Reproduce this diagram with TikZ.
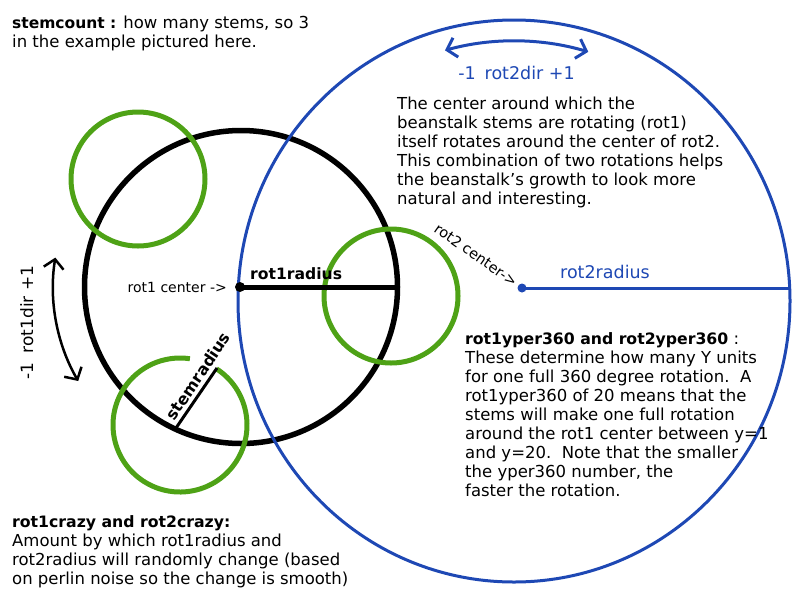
\documentclass[tikz,border=0pt]{standalone}
\usepackage{fontspec}
\setmainfont{DejaVu Sans}
\usetikzlibrary{arrows.meta}
\definecolor{stemgreen}{RGB}{78,162,22}
\definecolor{rotblue}{RGB}{30,72,180}
\tikzset{
  txt/.style={inner sep=0pt, align=left, anchor=north west, font=\fontsize{16.5}{19}\selectfont},
  lbl/.style={inner sep=0pt},
  greenring/.style={draw=stemgreen, line width=5pt},
  blackring/.style={draw=black, line width=5.5pt},
  bluering/.style={draw=rotblue, line width=3pt},
  barbtip/.tip={Straight Barb[length=9pt,width=20pt]},
  dotnode/.style={circle, inner sep=0pt},
}
\begin{document}
\begin{tikzpicture}[x=1pt,y=-1pt]
\useasboundingbox (0,0) rectangle (800,600);
% centres
\coordinate (c1) at (241,287);
\coordinate (bc) at (514,301);
\coordinate (c3) at (180,425);
\coordinate (s3c) at (176,428);
\coordinate (s3e) at (217,368);
\coordinate (r2e) at (790,288);
% black rot1 circle
\node[circle, blackring, minimum size=313pt, inner sep=0pt] (rot1circle) at (c1) {};
% green stem circles
\node[circle, greenring, minimum size=134pt, inner sep=0pt] (stem1) at (138,179) {};
\node[circle, greenring, minimum size=134pt, inner sep=0pt] (stem2) at (391,296) {};
\draw[greenring] (c3) ++(-57:67) arc[start angle=-57, end angle=278.5, radius=67];
% blue rot2 circle
\draw[bluering] (bc) ellipse[x radius=276, y radius=281];
% radius lines
\draw[line width=5pt] (c1) -- (rot1circle.east);
\draw[line width=3pt] (s3c) -- (s3e);
\node[dotnode, fill=black, minimum size=10pt] (dot1) at (240,287) {};
\node[dotnode, fill=rotblue, minimum size=9pt] (dot2) at (522,288) {};
\draw[rotblue, line width=3pt] (dot2.center) -- (r2e);
% direction arrows
\draw[barbtip-barbtip, line width=2.5pt] (c1) ++(189:188) arc[start angle=189, end angle=150, radius=188];
\draw[rotblue, barbtip-barbtip, line width=3pt] (bc) ++(-105.4:260) arc[start angle=-105.4, end angle=-73.4, radius=260];
% labels
\node[lbl, anchor=base east, font=\fontsize{14}{16}\selectfont] (l1c) at (227,292) {rot1 center ->};
\node[lbl, anchor=base west, font=\fontsize{15.6}{18}\selectfont\bfseries] (l1r) at (250,279) {rot1radius};
\node[lbl, anchor=base west, text=rotblue, font=\fontsize{17.5}{20}\selectfont] (l2r) at (560,278) {rot2radius};
\node[lbl, anchor=base, text=rotblue, font=\fontsize{17.5}{20}\selectfont] (l2d) at (516.5,79) {-1\hspace{9pt}rot2dir +1};
\node[lbl, anchor=base, rotate=90, font=\fontsize{17}{20}\selectfont] (l1d) at (33,322.5) {-1\hspace{9pt}rot1dir +1};
\node[lbl, rotate=56, font=\fontsize{16}{18}\selectfont\bfseries] (lsr) at (198,376) {stemradius};
\node[lbl, rotate=-35, font=\fontsize{14.5}{17}\selectfont] (l2c) at (476,255) {rot2 center->};
% text blocks
\node[txt] (tstem) at (12,15) {\rule{0pt}{13pt}{\fontsize{15.5}{19}\selectfont\bfseries stemcount :} how many stems, so 3\\in the example pictured here.};
\node[txt] (tcenter) at (397,96) {\rule{0pt}{13pt}The center around which the\\beanstalk stems are rotating (rot1)\\itself rotates around the center of rot2.\\This combination of two rotations helps\\the beanstalk's growth to look more\\natural and interesting.};
\node[txt] (typer) at (465,331) {\rule{0pt}{13pt}{\fontsize{15.7}{19}\selectfont\bfseries rot1yper360 and rot2yper360} :\\These determine how many Y units\\for one full 360 degree rotation.\ \ A\\rot1yper360 of 20 means that the\\stems will make one full rotation\\around the rot1 center between y=1\\and y=20.\ \ Note that the smaller\\the yper360 number, the\\faster the rotation.};
\node[txt] (tcrazy) at (12,514.7) {\rule{0pt}{13pt}{\fontsize{15.7}{19}\selectfont\bfseries rot1crazy and rot2crazy:}\\Amount by which rot1radius and\\rot2radius will randomly change (based\\on perlin noise so the change is smooth)};
\end{tikzpicture}
\end{document}
